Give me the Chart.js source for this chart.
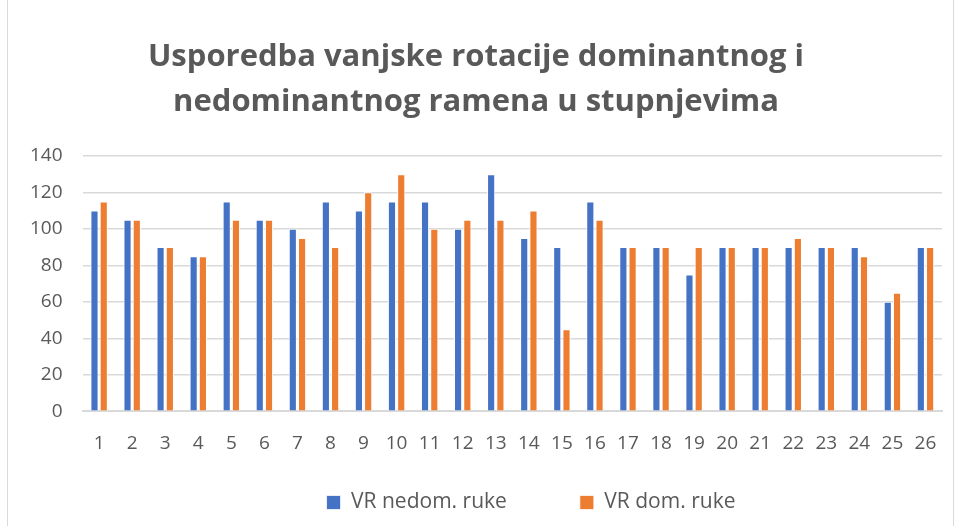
<!DOCTYPE html>
<html><head><meta charset="utf-8">
<script src="https://cdn.jsdelivr.net/npm/chart.js@4.4.0/dist/chart.umd.min.js"></script>
<style>
html,body{margin:0;padding:0;background:#fff;overflow:hidden}
#frame{position:absolute;left:7px;top:-1px;width:947px;height:540px;border:1px solid #d9d9d9;box-sizing:border-box}
#wrap{position:absolute;left:0;top:0;width:958px;height:526px}
</style></head>
<body>
<div id="frame"></div>
<div id="wrap"><canvas id="c" width="958" height="526"></canvas></div>
<script>
const categories = ['1','2','3','4','5','6','7','8','9','10','11','12','13','14','15','16','17','18','19','20','21','22','23','24','25','26'];
const nedom = [110,105,90,85,115,105,100,115,110,115,115,100,130,95,90,115,90,90,75,90,90,90,90,90,60,90];
const dom = [115,105,90,85,105,105,95,90,120,130,100,105,105,110,45,105,90,90,90,90,90,95,90,85,65,90];
const yTicks = [0,20,40,60,80,100,120,140];

// legend: wide gap between items, but compact height
const LEG_PAD = 73, LEG_H = 50, LEG_SHIFT = 57, LEG_SHIFT_X = 55;
if (Chart.Legend && Chart.Legend._element) {
  const LP = Chart.Legend._element.prototype;
  const of = LP.fit;
  LP.fit = function(){ of.call(this); if (this.isHorizontal()) this.height = LEG_H; };
  const od = LP._draw;
  LP._draw = function(){ const ctx = this.ctx; ctx.save(); ctx.translate(LEG_SHIFT_X, -LEG_SHIFT); od.call(this); ctx.restore(); };
}

const FONT = "'Open Sans','Noto Sans',sans-serif";
new Chart(document.getElementById('c'), {
  type: 'bar',
  data: {
    labels: categories,
    datasets: [
      {label:'VR nedom. ruke', data: nedom, backgroundColor:'#4472c4', borderColor:'#ffffff', borderWidth:{left:1,right:1,top:1,bottom:0}},
      {label:'VR dom. ruke', data: dom, backgroundColor:'#ed7d31', borderColor:'#ffffff', borderWidth:{left:1,right:1,top:1,bottom:0}}
    ]
  },
  options: {
    responsive:false,
    animation:false,
    devicePixelRatio:1,
    layout:{padding:{left:10,right:16,top:35,bottom:0}},
    datasets:{bar:{categoryPercentage:0.56,barPercentage:0.88}},
    plugins:{
      title:{display:true,text:['Usporedba vanjske rotacije dominantnog i','nedominantnog ramena u stupnjevima'],
        color:'#595959',font:{family:FONT,size:31,weight:'bold',lineHeight:1.45},padding:{top:0,bottom:31}},
      legend:{position:'bottom',labels:{color:'#595959',font:{family:FONT,size:21},boxWidth:14,boxHeight:14,padding:LEG_PAD}},
      tooltip:{enabled:false}
    },
    scales:{
      x:{grid:{display:false,drawTicks:false},border:{display:true,color:'#d9d9d9',width:2},
         ticks:{color:'#595959',font:{family:FONT,size:19},padding:21,maxRotation:0,autoSkip:false}},
      y:{min:0,max:140,afterBuildTicks:(ax)=>{ax.ticks=yTicks.map(v=>({value:v}));},
         grid:{color:'#d9d9d9',lineWidth:1.5,drawTicks:false},border:{display:false},
         ticks:{color:'#595959',font:{family:FONT,size:19},padding:20}}
    }
  }
});
</script>
</body></html>
